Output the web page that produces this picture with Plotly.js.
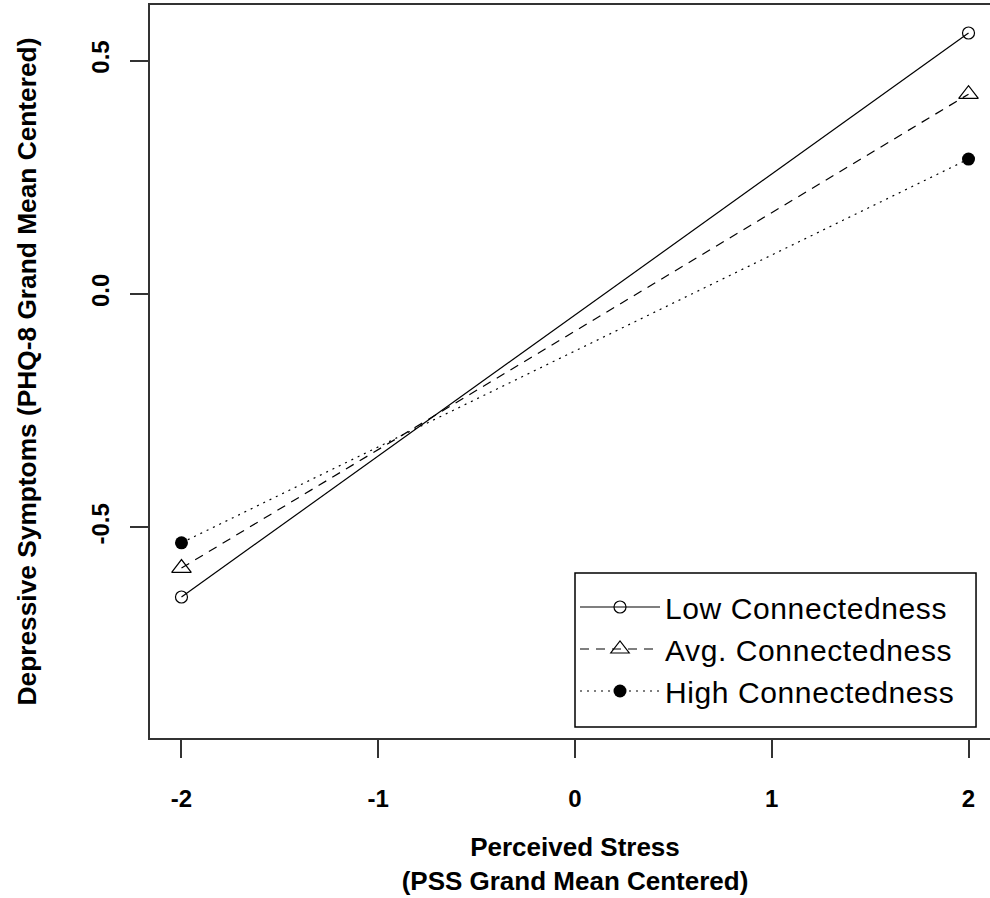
<!DOCTYPE html>
<html>
<head>
<meta charset="utf-8">
<script src="https://cdn.plot.ly/plotly-3.0.1.min.js"></script>
<style>
html,body{margin:0;padding:0;overflow:hidden;background:#fff;}
#chart{width:1000px;height:898px;}
.legendtext{letter-spacing:0.6px;}
</style>
</head>
<body>
<div id="chart"></div>
<script>
// Data
const stressLevels = [-2, 2];
const lowConnectedness = [-0.649, 0.559];
const avgConnectedness = [-0.587, 0.428];
const highConnectedness = [-0.533, 0.289];
const seriesNames = ["Low Connectedness", "Avg. Connectedness", "High Connectedness"];
const xTickVals = [-2, -1, 0, 1, 2];
const xTickText = ["-2", "-1", "0", "1", "2"];
const yTickVals = [-0.5, 0.0, 0.5];
const yTickText = ["-0.5", "0.0", "0.5"];

const boldFont = "'Liberation Sans Narrow', 'Arial Narrow', 'Liberation Sans', Arial, sans-serif";
const legendFont = "'Liberation Sans', Arial, sans-serif";

const traces = [
  {x: stressLevels, y: lowConnectedness, name: seriesNames[0], mode: 'lines+markers',
   line: {color: '#000', width: 1.2, dash: 'solid'},
   marker: {symbol: 'circle-open', size: 12, color: '#000', line: {width: 1.2, color: '#000'}}},
  {x: stressLevels, y: avgConnectedness, name: seriesNames[1], mode: 'lines+markers',
   line: {color: '#000', width: 1.2, dash: '9px,7px'},
   marker: {symbol: 'triangle-up-open', size: 17, color: '#000', line: {width: 1.2, color: '#000'}}},
  {x: stressLevels, y: highConnectedness, name: seriesNames[2], mode: 'lines+markers',
   line: {color: '#000', width: 1.2, dash: '2px,5px'},
   marker: {symbol: 'circle', size: 13, color: '#000'}}
];

const layout = {
  width: 1000, height: 898,
  margin: {l: 150, r: 0, t: 5, b: 160},
  paper_bgcolor: '#fff', plot_bgcolor: '#fff',
  showlegend: true,
  legend: {
    x: 0.5, y: 0.2142, xanchor: 'left', yanchor: 'top',
    bgcolor: 'rgba(0,0,0,0)', borderwidth: 0,
    font: {family: legendFont, size: 30, color: '#000'},
    itemwidth: 80, tracegroupgap: 0
  },
  shapes: [{
    type: 'rect', xref: 'paper', yref: 'paper',
    x0: 0.5, x1: 0.9718, y0: 0.015, y1: 0.2251,
    line: {color: '#000', width: 1.5}, fillcolor: '#fff', layer: 'below'
  }],
  xaxis: {
    range: [-2.16, 2.16], tickvals: xTickVals, ticktext: xTickText,
    showgrid: false, zeroline: false,
    showline: true, mirror: true, linecolor: '#333', linewidth: 2,
    ticks: 'outside', ticklen: 18, tickwidth: 2, tickcolor: '#333',
    tickfont: {family: boldFont, size: 24, color: '#000', weight: 'bold'},
    ticklabelstandoff: 20,
    title: {text: 'Perceived Stress<br>(PSS Grand Mean Centered)',
      font: {family: boldFont, size: 26, color: '#000', weight: 'bold'}, standoff: 27}
  },
  yaxis: {
    range: [-0.951, 0.619], tickvals: yTickVals, ticktext: yTickText,
    showgrid: false, zeroline: false,
    showline: true, mirror: true, linecolor: '#333', linewidth: 2,
    ticks: 'outside', ticklen: 18, tickwidth: 2, tickcolor: '#333',
    tickangle: -90,
    tickfont: {family: boldFont, size: 24, color: '#000', weight: 'bold'},
    ticklabelstandoff: 11,
    title: {text: 'Depressive Symptoms (PHQ-8 Grand Mean Centered)',
      font: {family: boldFont, size: 26.3, color: '#000', weight: 'bold'}, standoff: 43}
  }
};

Plotly.newPlot('chart', traces, layout, {displayModeBar: false, staticPlot: true});
</script>
</body>
</html>
